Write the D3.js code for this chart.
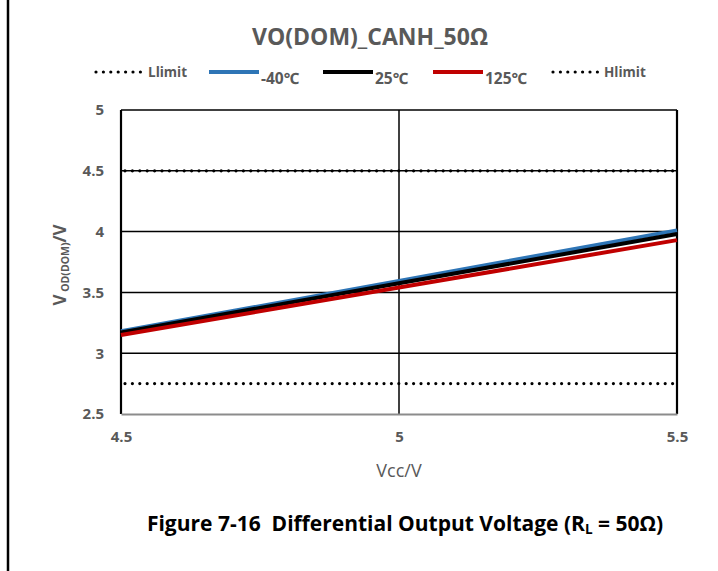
<!DOCTYPE html>
<html>
<head>
<meta charset="utf-8">
<script src="https://cdn.jsdelivr.net/npm/d3@7"></script>
<style>
  body { margin: 0; background: #fff; }
  text { font-family: "Open Sans", "Noto Sans", sans-serif; white-space: pre; }
</style>
</head>
<body>
<script>
const w = 718;
const h = 571;

// supply voltage points
const vcc = [4.5, 5, 5.5];
const t40 = [3.18, 3.595, 4.01];
const t25 = [3.17, 3.575, 3.98];
const t125 = [3.15, 3.54, 3.93];
const lLimit = 2.75;
const hLimit = 4.5;
const xTicks = [4.5, 5, 5.5];
const yTicks = [2.5, 3, 3.5, 4, 4.5, 5];

const series = [
  { name: "-40℃", values: t40, color: "#2e75b6" },
  { name: "25℃", values: t25, color: "#000000" },
  { name: "125℃", values: t125, color: "#c00000" }
];

const plotLeft = 121, plotRight = 677, plotTop = 110, plotBottom = 414;

const svg = d3.select("body").append("svg").attr("width", w).attr("height", h);

// page border line on the left
svg.append("line")
  .attr("x1", 8).attr("x2", 8).attr("y1", 0).attr("y2", h)
  .attr("stroke", "#000").attr("stroke-width", 2.5);

const xScale = d3.scaleLinear().domain([4.5, 5.5]).range([plotLeft, plotRight]);
const yScale = d3.scaleLinear().domain([2.5, 5]).range([plotBottom, plotTop]);

// grid
svg.append("g")
  .selectAll("line")
  .data(yTicks.filter(d => d > 2.5))
  .enter()
  .append("line")
  .attr("x1", plotLeft).attr("x2", plotRight)
  .attr("y1", d => yScale(d)).attr("y2", d => yScale(d))
  .attr("stroke", "#000").attr("stroke-width", 1.5);

svg.append("g")
  .selectAll("line")
  .data(xTicks)
  .enter()
  .append("line")
  .attr("x1", d => xScale(d)).attr("x2", d => xScale(d))
  .attr("y1", plotTop).attr("y2", plotBottom)
  .attr("stroke", "#000").attr("stroke-width", d => d === 5 ? 1.5 : 2.2);

// bottom axis
const xAxis = d3.axisBottom(xScale).tickValues(xTicks).tickSize(0).tickPadding(17)
  .tickFormat(d3.format("~g"));
const gx = svg.append("g").attr("transform", "translate(0," + plotBottom + ")").call(xAxis);
gx.select(".domain").attr("stroke", "#8c8c8c").attr("stroke-width", 2.2);
gx.selectAll("text")
  .attr("fill", "#595959").attr("font-size", 15).attr("font-weight", "bold")
  .style("font-family", "'Open Sans', sans-serif");

const yAxis = d3.axisLeft(yScale).tickValues(yTicks).tickSize(0).tickPadding(17)
  .tickFormat(d3.format("~g"));
const gy = svg.append("g").attr("transform", "translate(" + plotLeft + ",0)").call(yAxis);
gy.select(".domain").remove();
gy.selectAll("text")
  .attr("fill", "#595959").attr("font-size", 15).attr("font-weight", "bold")
  .style("font-family", "'Open Sans', sans-serif");

// limit lines
[lLimit, hLimit].forEach(function (v) {
  svg.append("line")
    .attr("x1", plotLeft + 4).attr("x2", plotRight - 3)
    .attr("y1", yScale(v)).attr("y2", yScale(v))
    .attr("stroke", "#000").attr("stroke-width", 3.2)
    .attr("stroke-linecap", "round")
    .attr("stroke-dasharray", "0 7.4");
});

const line = d3.line()
  .x((d, i) => xScale(vcc[i]))
  .y(d => yScale(d));

series.forEach(function (s) {
  svg.append("path")
    .datum(s.values)
    .attr("d", line)
    .attr("fill", "none")
    .attr("stroke", s.color)
    .attr("stroke-width", 4);
});

// title
svg.append("text")
  .attr("x", 370).attr("y", 45)
  .attr("text-anchor", "middle")
  .attr("fill", "#595959").attr("font-size", 23).attr("font-weight", "bold")
  .text("VO(DOM)_CANH_50Ω");

// legend
const legend = svg.append("g");
function dotted(x1, x2) {
  legend.append("line")
    .attr("x1", x1).attr("x2", x2).attr("y1", 72).attr("y2", 72)
    .attr("stroke", "#000").attr("stroke-width", 3.2)
    .attr("stroke-linecap", "round").attr("stroke-dasharray", "0 7.4");
}
function label(x, y, t, size) {
  legend.append("text")
    .attr("x", x).attr("y", y)
    .attr("fill", "#595959").attr("font-size", size).attr("font-weight", "bold")
    .text(t);
}
dotted(96, 141);
label(148, 77, "Llimit", 13.5);
const legX = [209, 323, 433];
series.forEach(function (s, i) {
  legend.append("line")
    .attr("x1", legX[i]).attr("x2", legX[i] + 50)
    .attr("y1", 72).attr("y2", 72)
    .attr("stroke", s.color).attr("stroke-width", 4);
  label(legX[i] + 52, 84, s.name, 15.5);
});
dotted(553, 598);
label(604, 77, "Hlimit", 13.5);

// axis titles
svg.append("text")
  .attr("x", 399).attr("y", 477)
  .attr("text-anchor", "middle")
  .attr("fill", "#595959").attr("font-size", 18)
  .text("Vcc/V");

const yt = svg.append("text")
  .attr("transform", "translate(66," + 265 + ") rotate(-90)")
  .attr("text-anchor", "middle")
  .attr("fill", "#595959").attr("font-size", 17).attr("font-weight", "bold");
yt.append("tspan").text("V");
yt.append("tspan").attr("font-size", 10.5).attr("dy", 3).text(" OD(DOM)");
yt.append("tspan").attr("dy", -3).text("/V");

// caption
const cap = svg.append("text")
  .attr("x", 405).attr("y", 531)
  .attr("text-anchor", "middle")
  .attr("fill", "#000").attr("font-size", 21).attr("font-weight", "bold");
cap.append("tspan").text("Figure 7-16  Differential Output Voltage (R");
cap.append("tspan").attr("font-size", 13.5).attr("dy", 3).text("L");
cap.append("tspan").attr("dy", -3).text(" = 50Ω)");
</script>
</body>
</html>
